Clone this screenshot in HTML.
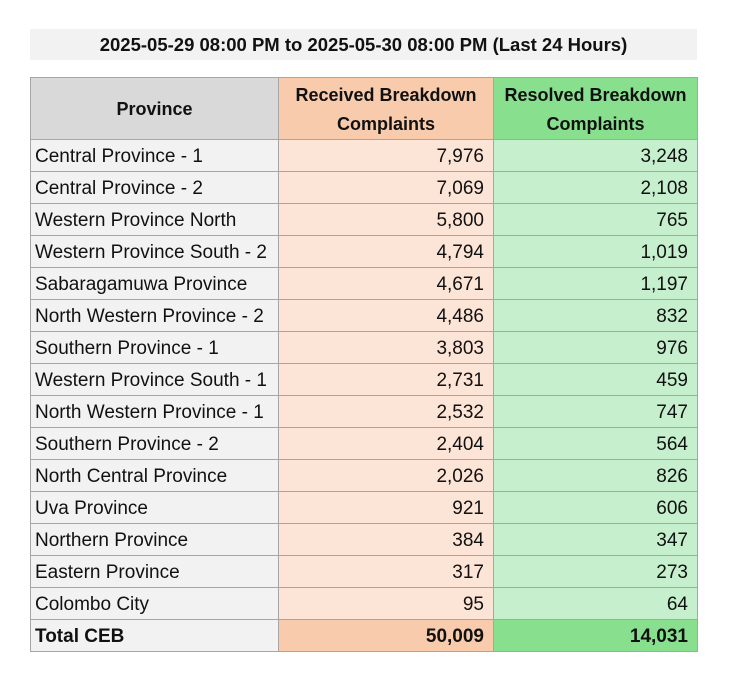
<!DOCTYPE html>
<html><head><style>
body{margin:0;background:#fff;width:729px;height:681px;position:relative;font-family:"Liberation Sans",sans-serif;}
.title{position:absolute;left:30px;top:29px;width:667px;height:31px;background:#f2f2f2;font-weight:bold;font-size:18.5px;line-height:31px;text-align:center;color:#111;}
table{position:absolute;left:30px;top:77px;border-collapse:collapse;font-size:19px;color:#111;table-layout:fixed;width:667px;}
td,th{border:1px solid #a6a6a6;padding:2px 4px 0 4px;height:32px;box-sizing:border-box;white-space:nowrap;overflow:hidden;}
th{height:62px;font-weight:bold;line-height:29px;font-size:18px;}
td.n{text-align:right;padding-right:9px;}
.c1{width:248px;background:#f2f2f2}
.c2{width:215px;background:#fce4d6}
.c3{width:204px;background:#c6efce}
th.c1{background:#d9d9d9}
th.c2{background:#f8cbad}
th.c3{background:#88e08e}
tr.t td{font-weight:bold}
tr.t td.c1{background:#f2f2f2}
tr.t td.c2{background:#f8cbad}
tr.t td.c3{background:#88e08e}
</style></head><body>
<div class="title">2025-05-29 08:00 PM to 2025-05-30 08:00 PM (Last 24 Hours)</div>
<table>
<tr><th class="c1">Province</th><th class="c2">Received Breakdown<br>Complaints</th><th class="c3">Resolved Breakdown<br>Complaints</th></tr>
<tr><td class="c1">Central Province - 1</td><td class="c2 n">7,976</td><td class="c3 n">3,248</td></tr>
<tr><td class="c1">Central Province - 2</td><td class="c2 n">7,069</td><td class="c3 n">2,108</td></tr>
<tr><td class="c1">Western Province North</td><td class="c2 n">5,800</td><td class="c3 n">765</td></tr>
<tr><td class="c1">Western Province South - 2</td><td class="c2 n">4,794</td><td class="c3 n">1,019</td></tr>
<tr><td class="c1">Sabaragamuwa Province</td><td class="c2 n">4,671</td><td class="c3 n">1,197</td></tr>
<tr><td class="c1">North Western Province - 2</td><td class="c2 n">4,486</td><td class="c3 n">832</td></tr>
<tr><td class="c1">Southern Province - 1</td><td class="c2 n">3,803</td><td class="c3 n">976</td></tr>
<tr><td class="c1">Western Province South - 1</td><td class="c2 n">2,731</td><td class="c3 n">459</td></tr>
<tr><td class="c1">North Western Province - 1</td><td class="c2 n">2,532</td><td class="c3 n">747</td></tr>
<tr><td class="c1">Southern Province - 2</td><td class="c2 n">2,404</td><td class="c3 n">564</td></tr>
<tr><td class="c1">North Central Province</td><td class="c2 n">2,026</td><td class="c3 n">826</td></tr>
<tr><td class="c1">Uva Province</td><td class="c2 n">921</td><td class="c3 n">606</td></tr>
<tr><td class="c1">Northern Province</td><td class="c2 n">384</td><td class="c3 n">347</td></tr>
<tr><td class="c1">Eastern Province</td><td class="c2 n">317</td><td class="c3 n">273</td></tr>
<tr><td class="c1">Colombo City</td><td class="c2 n">95</td><td class="c3 n">64</td></tr>
<tr class="t"><td class="c1">Total CEB</td><td class="c2 n">50,009</td><td class="c3 n">14,031</td></tr>
</table>
</body></html>
